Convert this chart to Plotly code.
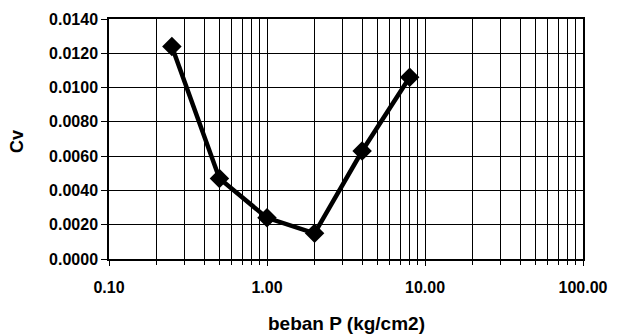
import plotly.graph_objects as go

# Consolidation coefficient Cv against applied load P
beban_p = [0.25, 0.5, 1.0, 2.0, 4.0, 8.0]
cv = [0.0124, 0.0047, 0.0024, 0.0015, 0.0063, 0.0106]

x_major = [0.1, 1.0, 10.0, 100.0]
x_major_text = ["0.10", "1.00", "10.00", "100.00"]
x_minor = [m * d for d in (0.1, 1.0, 10.0) for m in range(2, 10)]

font_family = "Liberation Sans, Arial, sans-serif"

fig = go.Figure(
    go.Scatter(
        x=beban_p,
        y=cv,
        mode="lines+markers",
        line=dict(color="black", width=4.5),
        marker=dict(symbol="diamond", size=15, color="black"),
        showlegend=False,
    )
)

fig.update_layout(
    width=618,
    height=336,
    margin=dict(l=109, r=35, t=19, b=77),
    paper_bgcolor="white",
    plot_bgcolor="white",
    font=dict(family=font_family, color="black"),
)

fig.update_xaxes(
    type="log",
    range=[-1, 2],
    tickvals=x_major,
    ticktext=x_major_text,
    tickfont=dict(size=16, family=font_family, color="black", weight="bold"),
    ticks="outside",
    ticklen=5,
    tickcolor="black",
    ticklabelstandoff=8,
    showgrid=True,
    gridcolor="black",
    gridwidth=1.2,
    minor=dict(
        tickvals=x_minor,
        showgrid=True,
        gridcolor="black",
        gridwidth=1.2,
        ticks="outside",
        ticklen=4,
        tickcolor="black",
    ),
    showline=True,
    linecolor="black",
    linewidth=1.5,
    mirror=True,
    zeroline=False,
    automargin=False,
)

fig.update_yaxes(
    range=[0, 0.014],
    dtick=0.002,
    tick0=0,
    tickformat=".4f",
    tickfont=dict(size=16, family=font_family, color="black", weight="bold"),
    ticks="outside",
    ticklen=6,
    tickcolor="black",
    showgrid=True,
    gridcolor="black",
    gridwidth=1.2,
    showline=True,
    linecolor="black",
    linewidth=1.5,
    mirror=True,
    zeroline=False,
    automargin=False,
)

# Axis titles placed as annotations relative to the plot area
fig.add_annotation(
    text="<b>beban P (kg/cm2)</b>",
    xref="paper", yref="paper",
    x=0.5, y=-0.27,
    xanchor="center", yanchor="middle",
    showarrow=False,
    font=dict(size=19, family=font_family, color="black"),
)
fig.add_annotation(
    text="<b>Cv</b>",
    xref="paper", yref="paper",
    x=-0.193, y=0.49,
    xanchor="center", yanchor="middle",
    textangle=-90,
    showarrow=False,
    font=dict(size=18, family=font_family, color="black"),
)

fig.write_html("out.html")
